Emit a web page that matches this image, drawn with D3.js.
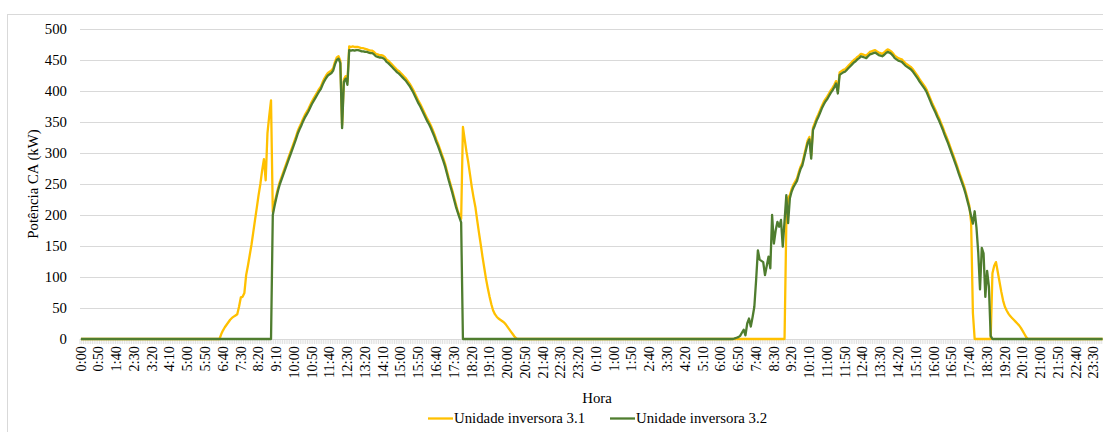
<!DOCTYPE html>
<html>
<head>
<meta charset="utf-8">
<script src="https://cdn.jsdelivr.net/npm/d3@7"></script>
<style>
  html, body { margin: 0; padding: 0; background: #fff; }
  svg { display: block; }
  text { font-family: "Liberation Serif", "Times New Roman", serif; fill: #000; }
</style>
</head>
<body>
<svg id="chart" width="1103" height="432"></svg>
<script>
// Two days of AC power readings, one value every 5 minutes (288 per day).
const dayLabels = ["Dia 1", "Dia 2"];

// Unidade inversora 3.1 — day 1
const inv31Day1 = [
  0,0,0,0,0,0,0,0,0,0, 0,0,0,0,0,0,0,0,0,0, 0,0,0,0,0,0,0,0,0,0,
  0,0,0,0,0,0,0,0,0,0, 0,0,0,0,0,0,0,0,0,0, 0,0,0,0,0,0,0,0,0,0,
  0,0,0,0,0,0,0,0,0,0, 0,0,0,0,0,0,0,0,0,
  8,14,19,23,27,31,34,36,38,40,
  52,67,68,74,103,118,135,152,172,192,
  212,232,250,272,290,256,332,360,385,
  205,219,232,244,254,262,270,278,286,294,
  302,310,318,326,335,342,348,355,361,366,
  371,377,383,388,393,398,403,407,414,420,
  425,429,431,433,437,447,454,456,449,345,
  419,424,415,472,471,472,471,471,471,470,
  469,469,468,467,466,465,465,463,460,459,
  458,458,457,455,451,449,446,443,440,437,
  434,432,429,426,423,420,416,412,407,402,
  396,390,384,379,373,367,361,355,350,344,
  337,330,322,315,307,299,291,282,271,260,
  250,240,229,218,207,200,194,
  342,322,302,285,265,245,228,213,192,172,
  153,133,115,97,82,68,56,46,40,36,
  33,31,29,27,24,20,16,12,8,4,1,
  0,0,0,0,0,0,0,0,0,0, 0,0,0,0,0,0,0,0,0,0, 0,0,0,0,0,0,0,0,0,0,
  0,0,0,0,0,0,0,0,0,0, 0,0
];

// Unidade inversora 3.1 — day 2
const inv31Day2 = [
  0,0,0,0,0,0,0,0,0,0, 0,0,0,0,0,0,0,0,0,0, 0,0,0,0,0,0,0,0,0,0,
  0,0,0,0,0,0,0,0,0,0, 0,0,0,0,0,0,0,0,0,0, 0,0,0,0,0,0,0,0,0,0,
  0,0,0,0,0,0,0,0,0,0, 0,0,0,0,0,0,0,0,0,0, 0,0,0,0,0,0,0,0,0,0,
  0,0,0,0,0,0,0,0,0,0, 0,0,0,0,0,0,0,0,0,
  187,228,232,242,249,254,259,269,278,284,296,
  308,320,326,296,341,348,356,362,369,376,
  382,387,391,396,401,405,410,416,401,430,
  432,434,435,438,441,444,447,450,452,455,
  457,460,459,458,457,460,463,464,465,466,
  464,462,461,460,462,465,467,466,464,461,
  457,455,453,452,451,448,445,443,441,439,
  436,432,428,424,419,415,411,407,402,395,
  388,381,375,369,362,356,349,342,334,327,
  320,312,304,296,288,280,271,263,255,247,
  237,226,215,188,42,
  0,0,0,0,0,0,0,0,0,0,
  106,118,124,108,92,76,62,52,46,41,
  37,34,31,28,25,22,18,13,8,3,
  0,0,0,0,0,0,0,0,0,0, 0,0,0,0,0,0,0,0,0,0, 0,0,0,0,0,0,0,0,0,0,
  0,0,0,0,0,0,0,0,0,0, 0,0,0
];

// Unidade inversora 3.2 — day 1
const inv32Day1 = [
  0,0,0,0,0,0,0,0,0,0, 0,0,0,0,0,0,0,0,0,0, 0,0,0,0,0,0,0,0,0,0,
  0,0,0,0,0,0,0,0,0,0, 0,0,0,0,0,0,0,0,0,0, 0,0,0,0,0,0,0,0,0,0,
  0,0,0,0,0,0,0,0,0,0, 0,0,0,0,0,0,0,0,0,0, 0,0,0,0,0,0,0,0,0,0,
  0,0,0,0,0,0,0,0,0,0, 0,0,0,0,0,0,0,0,
  200,215,228,240,250,258,266,274,282,290,
  298,306,314,322,331,338,344,351,357,362,
  367,373,379,384,389,394,399,403,410,416,
  421,425,427,429,433,443,450,452,445,340,
  415,420,410,466,465,466,465,466,466,465,
  464,464,463,463,462,461,461,459,456,455,
  454,454,453,451,447,445,442,439,436,433,
  430,428,425,422,419,416,412,408,403,398,
  392,386,380,375,369,363,357,351,346,340,
  333,326,318,311,303,295,287,278,267,256,
  246,236,225,214,205,196,188,
  0,0,0,0,0,0,0,0,0,0, 0,0,0,0,0,0,0,0,0,0, 0,0,0,0,0,0,0,0,0,0,
  0,0,0,0,0,0,0,0,0,0, 0,0,0,0,0,0,0,0,0,0, 0,0,0,0,0,0,0,0,0,0,
  0,0,0,0,0,0,0,0,0,0, 0,0,0
];

// Unidade inversora 3.2 — day 2
const inv32Day2 = [
  0,0,0,0,0,0,0,0,0,0, 0,0,0,0,0,0,0,0,0,0, 0,0,0,0,0,0,0,0,0,0,
  0,0,0,0,0,0,0,0,0,0, 0,0,0,0,0,0,0,0,0,0, 0,0,0,0,0,0,0,0,0,0,
  0,0,0,0,0,0,0,0,0,0, 0,0,0,0,0,0,0,0,0,0,
  1,2,3,5,10,15,6,25,33,20,
  35,52,95,143,128,126,124,103,118,133,
  114,200,154,175,189,181,192,149,190,232,
  187,227,238,245,250,255,265,274,280,292,
  304,316,322,291,337,344,352,358,365,372,
  378,383,387,392,397,401,406,412,396,426,
  428,430,431,434,437,440,443,446,448,451,
  453,456,455,454,453,456,459,460,461,462,
  460,458,457,456,458,461,463,462,460,457,
  453,451,449,448,447,444,441,439,437,435,
  432,428,424,420,415,411,407,403,398,391,
  384,377,371,365,358,352,345,338,330,323,
  316,308,300,292,284,276,267,259,251,243,
  233,222,211,198,186,206,180,140,80,147,
  138,68,110,85,5,
  0,0,0,0,0,0,0,0,0,0, 0,0,0,0,0,0,0,0,0,0, 0,0,0,0,0,0,0,0,0,0,
  0,0,0,0,0,0,0,0,0,0, 0,0,0,0,0,0,0,0,0,0, 0,0,0,0,0,0,0,0,0,0,
  0,0,0
];

// Axis labels shown every 50 minutes (every 10th slot)
const tickLabels = [
  "0:00","0:50","1:40","2:30","3:20","4:10","5:00","5:50","6:40","7:30",
  "8:20","9:10","10:00","10:50","11:40","12:30","13:20","14:10","15:00","15:50",
  "16:40","17:30","18:20","19:10","20:00","20:50","21:40","22:30","23:20",
  "0:10","1:00","1:50","2:40","3:30","4:20","5:10","6:00","6:50","7:40",
  "8:30","9:20","10:10","11:00","11:50","12:40","13:30","14:20","15:10","16:00",
  "16:50","17:40","18:30","19:20","20:10","21:00","21:50","22:40","23:30"
];
const yTicks = [0, 50, 100, 150, 200, 250, 300, 350, 400, 450, 500];

const seriesNames = ["Unidade inversora 3.1", "Unidade inversora 3.2"];
const seriesColors = ["#FFC000", "#4F7D2F"];

const inv31 = inv31Day1.concat(inv31Day2);
const inv32 = inv32Day1.concat(inv32Day2);
const slots = d3.range(inv31.length);
const series = [inv31, inv32];

const svg = d3.select("#chart");
const plot = { left: 80, right: 1103.5, top: 29, bottom: 339 };

// Chart frame
svg.append("rect")
  .attr("x", 7.5).attr("y", 14.5)
  .attr("width", 1110).attr("height", 440)
  .attr("fill", "#fff").attr("stroke", "#d9d9d9").attr("stroke-width", 1);

const x = d3.scaleBand().domain(slots).range([plot.left, plot.right]).padding(0);
const y = d3.scaleLinear().domain([0, 500]).range([plot.bottom, plot.top]);
const cx = i => x(i) + x.bandwidth() / 2;

// Horizontal gridlines + y labels
const yAxis = d3.axisLeft(y).tickValues(yTicks).tickSize(-(plot.right - plot.left)).tickPadding(13);
const gy = svg.append("g").attr("transform", `translate(${plot.left},0)`).call(yAxis);
gy.select(".domain").remove();
gy.selectAll(".tick line").attr("stroke", "#d9d9d9").attr("stroke-width", 1);
gy.selectAll(".tick text").attr("font-size", "14.8px").attr("font-family", "Liberation Serif");

// Category tick marks along the baseline
const minor = svg.append("g");
minor.selectAll("line").data(d3.range(inv31.length + 1)).join("line")
  .attr("x1", i => plot.left + i * x.bandwidth()).attr("x2", i => plot.left + i * x.bandwidth())
  .attr("y1", plot.bottom).attr("y2", plot.bottom + 5)
  .attr("stroke", "#d9d9d9").attr("stroke-width", 0.8);
svg.append("line")
  .attr("x1", plot.left).attr("x2", plot.right)
  .attr("y1", plot.bottom + 0.5).attr("y2", plot.bottom + 0.5)
  .attr("stroke", "#d9d9d9");

// Rotated time labels
const labelSlots = tickLabels.map((_, k) => k * 10);
const xAxis = d3.axisBottom(x).tickValues(labelSlots).tickSize(0)
  .tickFormat((d, k) => tickLabels[k]);
const gx = svg.append("g").attr("transform", `translate(0,${plot.bottom})`).call(xAxis);
gx.select(".domain").remove();
gx.selectAll(".tick text")
  .attr("font-size", "14.3px")
  .attr("font-family", "Liberation Serif")
  .attr("text-anchor", "end")
  .attr("transform", "rotate(-90)")
  .attr("x", -7).attr("y", 0).attr("dy", "0.33em");

// Lines
const line = d3.line().x((d, i) => cx(i)).y(d => y(d));
series.forEach((s, k) => {
  svg.append("path").datum(s)
    .attr("fill", "none")
    .attr("stroke", seriesColors[k])
    .attr("stroke-width", 2.3)
    .attr("stroke-linejoin", "round")
    .attr("d", line);
});

// Axis titles
svg.append("text")
  .attr("transform", `translate(38,${(plot.top + plot.bottom) / 2}) rotate(-90)`)
  .attr("text-anchor", "middle")
  .attr("font-size", "14.8px")
  .text("Potência CA (kW)");
svg.append("text")
  .attr("x", 597).attr("y", 403)
  .attr("text-anchor", "middle")
  .attr("font-size", "14.8px")
  .text("Hora");

// Legend
const legendX = [428, 610];
seriesNames.forEach((name, k) => {
  const g = svg.append("g").attr("transform", `translate(${legendX[k]},418.5)`);
  g.append("line").attr("x1", 0).attr("x2", 25).attr("y1", 0).attr("y2", 0)
    .attr("stroke", seriesColors[k]).attr("stroke-width", 2.3);
  g.append("text").attr("x", 26).attr("y", 4.5).attr("font-size", "14.8px").text(name);
});
</script>
</body>
</html>
